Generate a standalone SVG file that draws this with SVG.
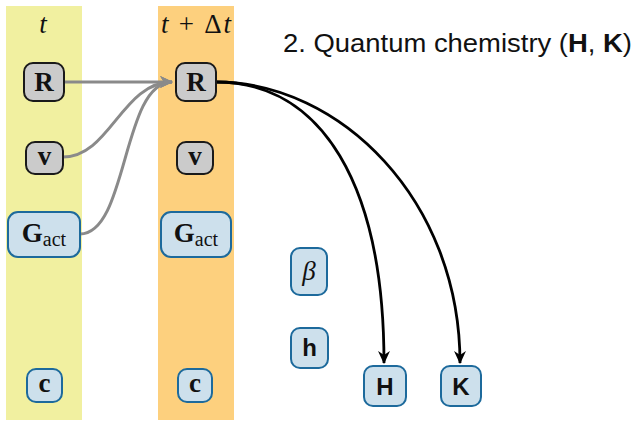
<svg xmlns="http://www.w3.org/2000/svg" width="635" height="422" viewBox="0 0 635 422">
<style>
.gn{fill:#cbcbcb;stroke:#1a1a1a;stroke-width:2}
.bn{fill:#cde0ec;stroke:#1d6a9c;stroke-width:2}
.lb{font-family:"Liberation Serif",serif;font-weight:bold;font-size:27px;fill:#111;text-anchor:middle}
.ls{font-family:"Liberation Sans",sans-serif;font-weight:bold;font-size:24px;fill:#111;text-anchor:middle}
.hd{font-family:"Liberation Serif",serif;font-size:27px;fill:#111;text-anchor:middle}
.ga{fill:none;stroke:#8a8a8a;stroke-width:3}
.ba{fill:none;stroke:#000;stroke-width:2.8}
</style>
<defs>
<marker id="ag" viewBox="0 0 12 12" refX="11" refY="6" markerWidth="13" markerHeight="13" markerUnits="userSpaceOnUse" orient="auto">
<path d="M0,0.5 L12,6 L0,11.5 L3.5,6 Z" fill="#8a8a8a"/>
</marker>
<marker id="ab" viewBox="0 0 12 12" refX="11" refY="6" markerWidth="13" markerHeight="13" markerUnits="userSpaceOnUse" orient="auto">
<path d="M0,0.5 L12,6 L0,11.5 L3.5,6 Z" fill="#000"/>
</marker>
</defs>
<rect x="6" y="6" width="76" height="414" fill="#f1f0a0"/>
<rect x="158" y="6" width="76" height="414" fill="#fdd07e"/>
<text class="hd" x="43" y="33" font-style="italic">t</text>
<text class="hd" x="196" y="33" textLength="70"><tspan font-style="italic">t</tspan> + Δ<tspan font-style="italic">t</tspan></text>
<text x="283" y="52" font-family="Liberation Sans,sans-serif" font-size="25" fill="#111" textLength="349" lengthAdjust="spacingAndGlyphs">2. Quantum chemistry (<tspan font-weight="bold">H</tspan>, <tspan font-weight="bold">K</tspan>)</text>
<g id="connectors">
<path class="ga" d="M65,82 L172,82" marker-end="url(#ag)"/>
<path class="ga" d="M63,157 C110,157 122,82 172,82" marker-end="url(#ag)"/>
<path class="ga" d="M80,234 C128,234 122,82 172,82" marker-end="url(#ag)"/>
<path class="ba" d="M216,82 C322,82 384,185 384,363" marker-end="url(#ab)"/>
<path class="ba" d="M216,82 C340,82 460,200 460,363" marker-end="url(#ab)"/>
</g>
<g id="R_t"><rect class="gn" x="24" y="63" width="40" height="38" rx="9"/><text class="lb" x="44" y="91">R</text></g>
<g id="v_t"><rect class="gn" x="26" y="142" width="37" height="32" rx="9"/><text class="lb" x="44.5" y="165">v</text></g>
<g id="G_t"><rect class="bn" x="8" y="212" width="72" height="45" rx="10"/><text class="lb" x="44" y="242">G<tspan font-weight="normal" font-size="20" dy="4">act</tspan></text></g>
<g id="c_t"><rect class="bn" x="27" y="369" width="35" height="33" rx="9"/><text class="lb" x="44.5" y="392">c</text></g>
<g id="R_dt"><rect class="gn" x="176" y="63" width="40" height="38" rx="9"/><text class="lb" x="196" y="91">R</text></g>
<g id="v_dt"><rect class="gn" x="177" y="142" width="36" height="32" rx="9"/><text class="lb" x="195" y="165">v</text></g>
<g id="G_dt"><rect class="bn" x="161" y="212" width="70" height="45" rx="10"/><text class="lb" x="196" y="242">G<tspan font-weight="normal" font-size="20" dy="4">act</tspan></text></g>
<g id="c_dt"><rect class="bn" x="178" y="369" width="34" height="33" rx="9"/><text class="lb" x="195" y="392">c</text></g>
<g id="beta"><rect class="bn" x="291" y="248" width="36" height="47" rx="9"/><text x="309" y="280" font-family="Liberation Serif,serif" font-style="italic" font-size="27" fill="#111" text-anchor="middle">β</text></g>
<g id="h"><rect class="bn" x="291" y="328" width="37" height="40" rx="9"/><text class="ls" x="309.5" y="356">h</text></g>
<g id="H"><rect class="bn" x="364" y="366" width="42" height="40" rx="9"/><text class="ls" x="385" y="395">H</text></g>
<g id="K"><rect class="bn" x="441" y="366" width="40" height="40" rx="9"/><text class="ls" x="461" y="395">K</text></g>
</svg>
